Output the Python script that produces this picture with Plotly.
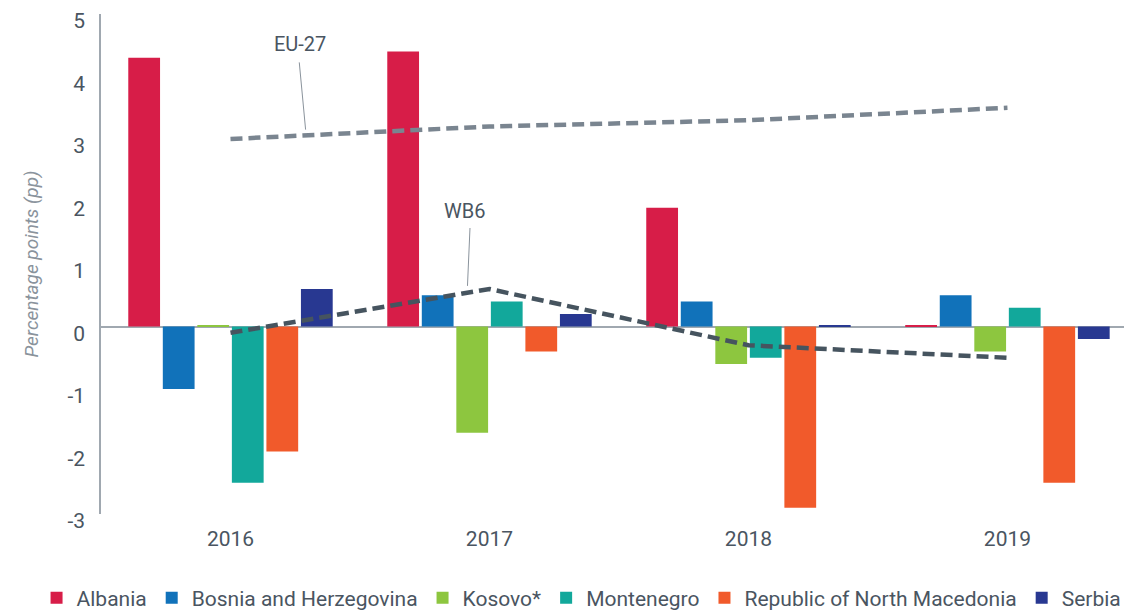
import plotly.graph_objects as go

years = ["2016", "2017", "2018", "2019"]
countries = ["Albania", "Bosnia and Herzegovina", "Kosovo*", "Montenegro",
             "Republic of North Macedonia", "Serbia"]
albania = [4.3, 4.4, 1.9, 0.01]
bosnia = [-1.0, 0.5, 0.4, 0.5]
kosovo = [0.01, -1.7, -0.6, -0.4]
montenegro = [-2.5, 0.4, -0.5, 0.3]
north_macedonia = [-2.0, -0.4, -2.9, -2.5]
serbia = [0.6, 0.2, 0.01, -0.2]
eu27 = [3.0, 3.2, 3.3, 3.5]
wb6 = [-0.1, 0.6, -0.3, -0.5]
y_ticks = [-3, -2, -1, 0, 1, 2, 3, 4, 5]
y_tick_labels = ["-3", "-2", "-1", "0", "1", "2", "3", "4", "5"]

series = [albania, bosnia, kosovo, montenegro, north_macedonia, serbia]
colors = ["#d71d48", "#1172ba", "#8dc63f", "#12a89b", "#f15a2b", "#283891"]

fig = go.Figure()
for name, vals, col in zip(countries, series, colors):
    fig.add_trace(go.Bar(x=years, y=vals, name=name, marker_color=col,
                         marker_line_width=0))

fig.add_trace(go.Scatter(x=years, y=eu27, mode="lines", name="EU-27",
                         showlegend=False,
                         line=dict(color="#7a8590", width=4.5, dash="12px,6px")))
fig.add_trace(go.Scatter(x=years, y=wb6, mode="lines", name="WB6",
                         showlegend=False,
                         line=dict(color="#46545f", width=4.5, dash="12px,6px")))

txt = "#4a5561"
fig.add_annotation(x=0.29, y=3.15, xref="x", yref="y", ax=0.265, ay=4.25,
                   axref="x", ayref="y", text="", showarrow=True,
                   arrowhead=0, arrowwidth=1, arrowcolor="#8a939c")
fig.add_annotation(x=0.27, y=4.3, xref="x", yref="y", text="EU-27",
                   showarrow=False, yanchor="bottom",
                   font=dict(family="Roboto", size=20, color=txt))
fig.add_annotation(x=0.915, y=0.65, xref="x", yref="y", ax=0.925, ay=1.6,
                   axref="x", ayref="y", text="", showarrow=True,
                   arrowhead=0, arrowwidth=1, arrowcolor="#8a939c")
fig.add_annotation(x=0.905, y=1.62, xref="x", yref="y", text="WB6",
                   showarrow=False, yanchor="bottom",
                   font=dict(family="Roboto", size=20, color=txt))

fig.update_layout(
    width=1124, height=612,
    margin=dict(l=101, r=0, t=14, b=98, autoexpand=False),
    paper_bgcolor="white", plot_bgcolor="white",
    barmode="group", bargap=0.2, bargroupgap=0.08,
    font=dict(family="Roboto", size=21, color=txt),
    legend=dict(orientation="h", x=-0.063, xanchor="left", y=-0.168,
                yanchor="middle", font=dict(family="Roboto", size=21, color=txt),
                itemwidth=30, tracegroupgap=0),
    xaxis=dict(type="category", range=[-0.5, 3.45], showgrid=False,
               showline=False, zeroline=False, ticks="outside", ticklen=6,
               tickcolor="rgba(0,0,0,0)", automargin=False,
               tickfont=dict(family="Roboto", size=21, color=txt)),
    yaxis=dict(range=[-3, 5], tickvals=y_ticks, ticktext=y_tick_labels,
               showgrid=False, showline=True, automargin=False,
               linecolor="#a0a8b0", linewidth=1.5, zeroline=True,
               zerolinecolor="#a0a8b0", zerolinewidth=1.5,
               ticks="outside", ticklen=10, tickcolor="rgba(0,0,0,0)",
               ticklabelshift=7,
               tickfont=dict(family="Roboto", size=21, color=txt),
               title=dict(text="<i>Percentage points (pp)</i>", standoff=24,
                          font=dict(family="Roboto", size=19, color="#8a939c"))),
)

fig.write_html("out.html", config={"displayModeBar": False},
               post_script="document.body.style.margin='0';")
